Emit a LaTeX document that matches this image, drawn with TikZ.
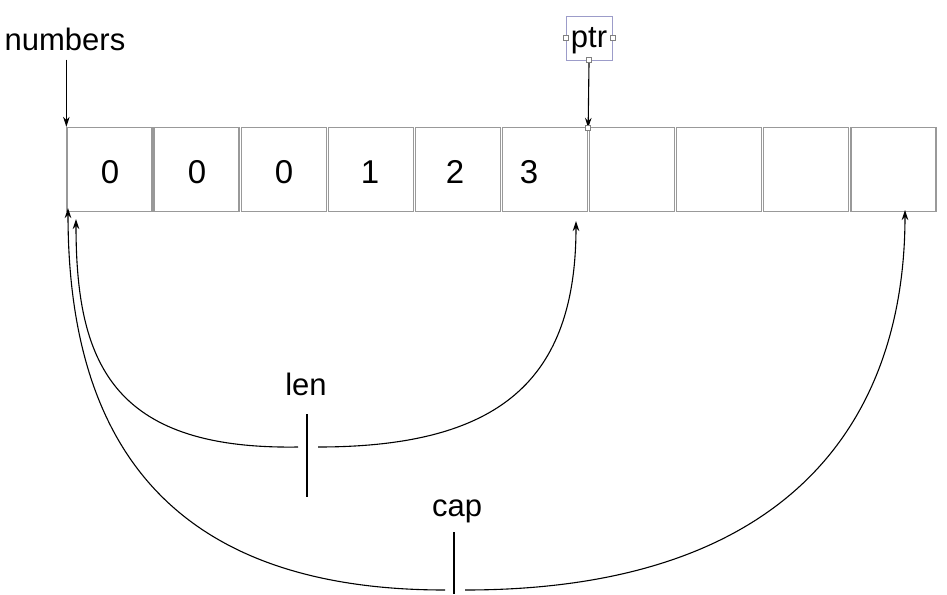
\documentclass[tikz,border=0pt]{standalone}
\usepackage{fontspec}
\setmainfont{Liberation Sans}
\usetikzlibrary{arrows.meta}
\begin{document}
\begin{tikzpicture}[x=1pt,y=-1pt,
  cell/.style={draw=black!40,line width=1.3pt,minimum width=85pt,minimum height=84pt,inner sep=0pt},
  digit/.style={font=\fontsize{33}{35}\selectfont,inner sep=0pt},
  lbl/.style={font=\fontsize{31}{33}\selectfont,inner sep=1pt},
  arr/.style={-{Stealth[length=10pt,width=6.5pt]},line width=1.1pt},
  curve/.style={line width=1.1pt},
  handle/.style={draw=black!50,fill=white,line width=0.6pt,minimum size=5pt,inner sep=0pt}]
\useasboundingbox (0,0) rectangle (947,594);
% cells
\foreach \i in {0,...,9}
  \node[cell] (c\i) at ({109.5+87.1*\i},169.5) {};
\node[digit] (d0) at (110,172) {0};
\node[digit] (d1) at (197,172) {0};
\node[digit] (d2) at (284,172) {0};
\node[digit] (d3) at (370,172) {1};
\node[digit] (d4) at (455,172) {2};
\node[digit] (d5) at (529,172) {3};
% labels
\node[lbl] (num) at (65,39) {numbers};
\node[draw=blue!30!gray!60,line width=0.6pt,minimum width=46pt,minimum height=44pt,inner sep=0pt] (ptr) at (589,38) {};
\node[lbl] (ptrt) at (589,41) {ptr};
\node[handle] (h1) at (ptr.west) {};
\node[handle] (h2) at (ptr.east) {};
\node[handle] (h3) at (ptr.south) {};
\coordinate (numtip) at (c0.north west);
\coordinate (ptrtip) at (c5.north east);
\draw[arr] (num.south -| numtip) ++(0,8) -- (numtip);
\draw[arr] (h3.south) -- ([yshift=-1pt]ptrtip);
\node[handle] (h4) at ([yshift=-1pt]ptrtip) {};
% len
\node[lbl] (len) at (306,384) {len};
\coordinate (lenL) at (298,447);
\coordinate (lenR) at (318,447);
\coordinate (lenA) at (76,219);
\coordinate (lenB) at (576,221);
\draw[curve] (307,414) -- (307,497);
\draw[arr] (lenL) .. controls (110,450) and (76,360) .. (lenA);
\draw[arr] (lenR) .. controls (500,447) and (576,380) .. (lenB);
% cap
\node[lbl] (cap) at (457,511) {cap};
\coordinate (capL) at (445,590);
\coordinate (capR) at (465,590);
\coordinate (capA) at (68,208);
\coordinate (capB) at (905,210);
\draw[curve] (454,532) -- (454,594);
\draw[arr] (capL) .. controls (150,590) and (68,420) .. (capA);
\draw[arr] (capR) .. controls (790,590) and (905,420) .. (capB);
\end{tikzpicture}
\end{document}
